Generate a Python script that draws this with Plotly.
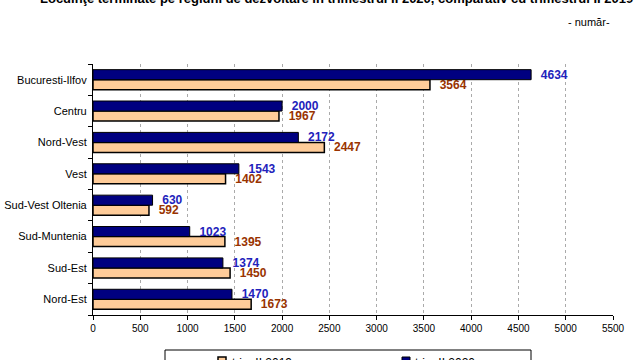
import plotly.graph_objects as go

categories = ["Bucuresti-Ilfov", "Centru", "Nord-Vest", "Vest", "Sud-Vest Oltenia",
              "Sud-Muntenia", "Sud-Est", "Nord-Est"]
values_2019 = [3564, 1967, 2447, 1402, 592, 1395, 1450, 1673]
values_2020 = [4634, 2000, 2172, 1543, 630, 1023, 1374, 1470]
series_names = ["trim.II 2019", "trim.II 2020"]
x_ticks = list(range(0, 5501, 500))

cats = categories[::-1]
v19 = values_2019[::-1]
v20 = values_2020[::-1]

L, T, R, B = 93, 64, 26, 45
PW = 639 - L - R
PH = 360 - T - B


def px(x):
    return (x - L) / PW


def py(y):
    return 1 - (y - T) / PH


PEACH, NAVY = "#FFCC99", "#000080"
PAD = "\u00a0\u00a0"

fig = go.Figure()
fig.add_trace(go.Bar(
    y=cats, x=v19, orientation="h", name=series_names[0],
    marker=dict(color=PEACH, line=dict(color="black", width=1.5)),
    text=[PAD + str(v) for v in v19], textposition="outside", cliponaxis=False,
    constraintext="none",
    textfont=dict(family="Liberation Sans, Arial", size=12, color="#993300", weight="bold"),
))
fig.add_trace(go.Bar(
    y=cats, x=v20, orientation="h", name=series_names[1],
    marker=dict(color=NAVY, line=dict(color="black", width=1)),
    text=[PAD + str(v) for v in v20], textposition="outside", cliponaxis=False,
    constraintext="none",
    textfont=dict(family="Liberation Sans, Arial", size=12, color="#2222BB", weight="bold"),
))

shapes = [
    dict(type="rect", xref="paper", yref="paper", x0=px(165), x1=px(531),
         y0=py(375), y1=py(350), line=dict(color="black", width=1), fillcolor="white"),
    dict(type="rect", xref="paper", yref="paper", x0=px(218), x1=px(226),
         y0=py(365), y1=py(357), line=dict(color="black", width=1.5), fillcolor=PEACH),
    dict(type="rect", xref="paper", yref="paper", x0=px(402), x1=px(410),
         y0=py(365), y1=py(357), line=dict(color="black", width=1), fillcolor=NAVY),
]

annotations = [
    dict(text="<b>Locuinţe terminate pe regiuni de dezvoltare în trimestrul II 2020, comparativ cu trimestrul II 2019</b>",
         xref="paper", yref="paper", x=px(336), y=py(8),
         xanchor="center", yanchor="bottom", showarrow=False,
         font=dict(family="Liberation Sans, Arial", size=13, color="black")),
    dict(text="- număr-", xref="paper", yref="paper", x=px(612), y=py(22),
         xanchor="right", yanchor="middle", showarrow=False,
         font=dict(family="Liberation Sans, Arial", size=11, color="black")),
    dict(text=series_names[0], xref="paper", yref="paper", x=px(230), y=py(354),
         xanchor="left", yanchor="top", showarrow=False,
         font=dict(family="Liberation Sans, Arial", size=12, color="black")),
    dict(text=series_names[1], xref="paper", yref="paper", x=px(413), y=py(354),
         xanchor="left", yanchor="top", showarrow=False,
         font=dict(family="Liberation Sans, Arial", size=12, color="black")),
]

fig.update_layout(
    width=639, height=360,
    margin=dict(l=L, r=R, t=T, b=B, autoexpand=False),
    paper_bgcolor="white", plot_bgcolor="white",
    barmode="group", bargap=0.36, bargroupgap=0,
    font=dict(family="Liberation Sans, Arial", size=10, color="black"),
    showlegend=False,
    xaxis=dict(range=[0, 5500], tickvals=x_ticks, ticks="outside", ticklen=4,
               tickcolor="black", showline=True, linecolor="black", linewidth=1,
               showgrid=True, gridcolor="#AAAAAA", griddash="dot", gridwidth=1,
               zeroline=False, tickfont=dict(size=10), automargin=False),
    yaxis=dict(ticks="outside", ticklen=4, tickcolor="black", tickson="boundaries",
               showline=True, linecolor="black", linewidth=1, showgrid=False,
               tickfont=dict(size=11), ticksuffix=" ", automargin=False),
    shapes=shapes,
    annotations=annotations,
)

fig.write_html("out.html", config={"displayModeBar": False},
               post_script="document.body.style.margin='0px';")
